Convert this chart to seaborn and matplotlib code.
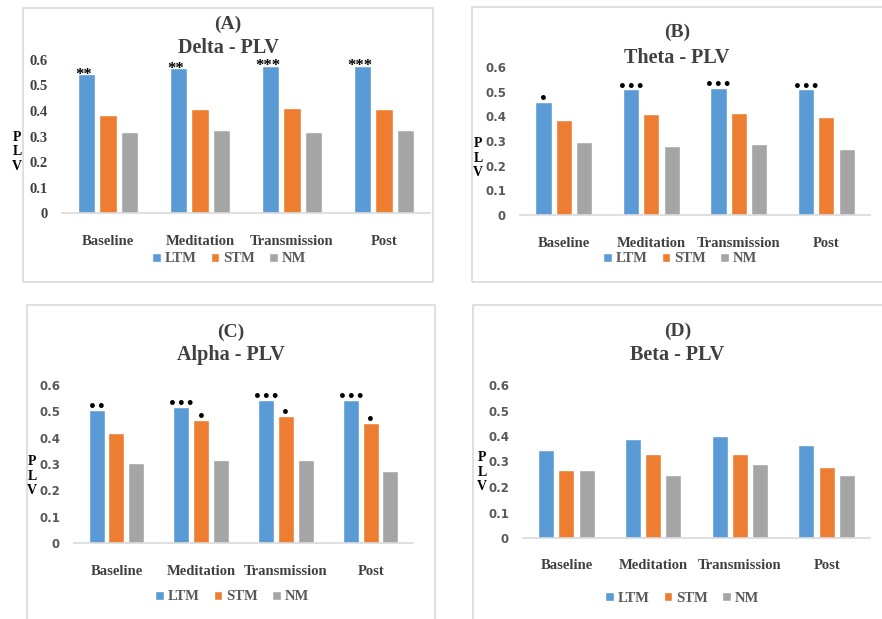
import numpy as np
import pandas as pd
import matplotlib
matplotlib.use('Agg')
import matplotlib.pyplot as plt
from matplotlib.patches import Rectangle
import seaborn as sns

sns.set_style('white')
plt.rcParams['font.family'] = ['Liberation Serif', 'DejaVu Sans']

conditions = ['Baseline', 'Meditation', 'Transmission', 'Post']
groups = ['LTM', 'STM', 'NM']
colors = ['#5B9BD5', '#ED7D31', '#A5A5A5']

# PLV values
delta_ltm = [0.544, 0.567, 0.578, 0.578]
delta_stm = [0.383, 0.408, 0.413, 0.408]
delta_nm = [0.316, 0.326, 0.316, 0.326]

theta_ltm = [0.457, 0.509, 0.515, 0.509]
theta_stm = [0.387, 0.410, 0.415, 0.398]
theta_nm = [0.296, 0.279, 0.286, 0.268]

alpha_ltm = [0.505, 0.516, 0.544, 0.544]
alpha_stm = [0.416, 0.467, 0.484, 0.456]
alpha_nm = [0.305, 0.316, 0.316, 0.272]

beta_ltm = [0.345, 0.387, 0.399, 0.364]
beta_stm = [0.266, 0.329, 0.329, 0.278]
beta_nm = [0.266, 0.249, 0.290, 0.249]

# significance marks
delta_ltm_sig = ['**', '**', '***', '***']
theta_ltm_sig = ['\u2022', '\u2022\u2022\u2022', '\u2022\u2022\u2022', '\u2022\u2022\u2022']
alpha_ltm_sig = ['\u2022\u2022', '\u2022\u2022\u2022', '\u2022\u2022\u2022', '\u2022\u2022\u2022']
alpha_stm_sig = ['', '\u2022', '\u2022', '\u2022']
empty_sig = ['', '', '', '']

yticks = [0, 0.1, 0.2, 0.3, 0.4, 0.5, 0.6]
ytick_labels = ['0', '0.1', '0.2', '0.3', '0.4', '0.5', '0.6']

W, H = 882, 619
fig = plt.figure(figsize=(8.82, 6.19), dpi=100)


def fx(px):
    return px / W


def fy(py):
    return 1 - py / H


def draw_panel(box, axbox, letter, title, ltm, stm, nm, ltm_sig, stm_sig,
               serif_ticks, title_y, cat_pad, leg_xy, plv_xy):
    # panel frame
    x0, y0, x1, y1 = box
    fig.patches.append(Rectangle((fx(x0), fy(y1)), fx(x1 - x0), (y1 - y0) / H,
                                 transform=fig.transFigure, fill=False,
                                 edgecolor='#D9D9D9', lw=1.2))
    l, t, r, b = axbox
    ax = fig.add_axes([fx(l), fy(b), fx(r - l), (b - t) / H])
    df = pd.DataFrame({
        'Condition': conditions * 3,
        'Group': [g for g in groups for _ in conditions],
        'PLV': ltm + stm + nm,
    })
    sns.barplot(data=df, x='Condition', y='PLV', hue='Group', hue_order=groups,
                palette=colors, width=0.7, gap=0.2, ax=ax, saturation=1)
    ax.set_ylim(0, 0.6)
    ax.set_yticks(yticks)
    if serif_ticks:
        ax.set_yticklabels(ytick_labels, fontsize=10.5, fontweight='bold',
                           color='#404040')
    else:
        ax.set_yticklabels(ytick_labels, fontsize=8.5, fontweight='bold',
                           color='#595959', family='DejaVu Sans')
    ax.tick_params(axis='y', length=0, pad=10)
    ax.tick_params(axis='x', length=0, pad=cat_pad)
    for lab in ax.get_xticklabels():
        lab.set_fontsize(10.5)
        lab.set_fontweight('bold')
        lab.set_color('#404040')
    ax.set_xlabel('')
    ax.set_ylabel('')
    for s in ['top', 'right', 'left']:
        ax.spines[s].set_visible(False)
    ax.spines['bottom'].set_color('#D9D9D9')
    ax.spines['bottom'].set_linewidth(1.2)

    # significance marks
    for cont, sigs in [(ax.containers[0], ltm_sig), (ax.containers[1], stm_sig)]:
        for bar, sig in zip(cont, sigs):
            if not sig:
                continue
            xc = bar.get_x() + bar.get_width() / 2
            if '*' in sig:
                ax.annotate(sig, (xc, bar.get_height()), xytext=(-2, -6),
                            textcoords='offset points', ha='center', va='bottom',
                            fontsize=12, fontweight='bold', color='black',
                            annotation_clip=False)
            else:
                ax.annotate(sig, (xc, bar.get_height()), xytext=(0, -3),
                            textcoords='offset points', ha='center', va='bottom',
                            fontsize=10, fontweight='bold', color='black',
                            family='DejaVu Sans', annotation_clip=False)

    # titles
    cx = (x0 + min(x1, W)) / 2
    fig.text(fx(cx), fy(title_y[0]), letter, ha='center', va='center',
             fontsize=14, fontweight='bold', color='#404040')
    fig.text(fx(cx), fy(title_y[1]), title, ha='center', va='center',
             fontsize=14.5, fontweight='bold', color='#404040')

    # P L V stacked label
    fig.text(fx(plv_xy[0]), fy(plv_xy[1]), 'P\nL\nV', ha='center', va='center',
             fontsize=10, fontweight='bold', color='black', linespacing=1.15)

    sns.move_legend(ax, 'center', bbox_to_anchor=(fx(leg_xy[0]), fy(leg_xy[1])),
                    bbox_transform=fig.transFigure, ncol=3, frameon=False,
                    title=None, handlelength=0.6, handleheight=0.6,
                    handletextpad=0.25, columnspacing=1.0,
                    prop={'size': 10.5, 'weight': 'bold'})
    for txt in ax.get_legend().get_texts():
        txt.set_color('#595959')
    return ax


draw_panel((23, 8, 433, 282), (62, 60, 430, 213), '(A)', 'Delta - PLV',
           delta_ltm, delta_stm, delta_nm, delta_ltm_sig, empty_sig,
           True, (24, 48), 16, (229, 259), (17, 152))
draw_panel((472, 7, 895, 282), (520, 67, 870, 215), '(B)', 'Theta - PLV',
           theta_ltm, theta_stm, theta_nm, theta_ltm_sig, empty_sig,
           False, (32, 58), 16, (680, 259), (478, 158))
draw_panel((27, 305, 435, 630), (74, 385, 413, 543), '(C)', 'Alpha - PLV',
           alpha_ltm, alpha_stm, alpha_nm, alpha_ltm_sig, alpha_stm_sig,
           False, (332, 355), 16, (232, 597), (32, 476))
draw_panel((473, 305, 895, 630), (523, 385, 870, 538), '(D)', 'Beta - PLV',
           beta_ltm, beta_stm, beta_nm, empty_sig, empty_sig,
           False, (331, 355), 15, (682, 598), (482, 472))

fig.savefig('out.png', dpi=100, facecolor='white')
